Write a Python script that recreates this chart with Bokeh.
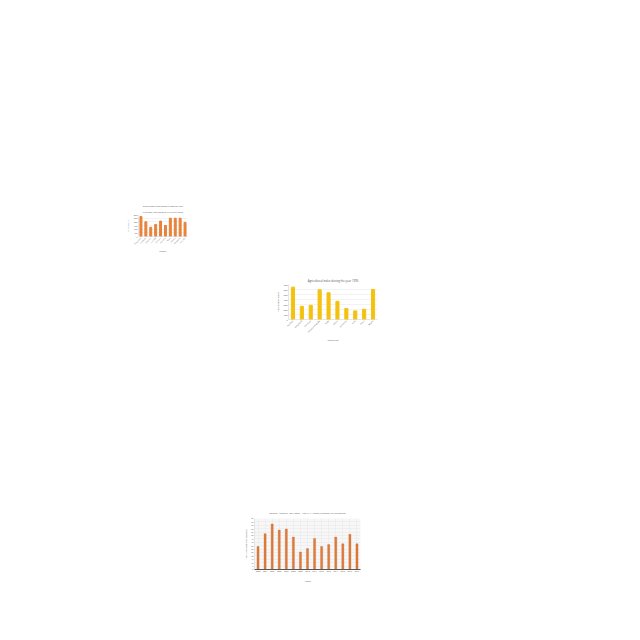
import math
from bokeh.plotting import figure
from bokeh.layouts import column, row, Spacer
from bokeh.models import Title, FixedTicker, Range1d
from bokeh.embed import file_html
from bokeh.resources import INLINE

# ---------------- data ----------------
c1_countries = ["Bangladesh", "Cambodia", "Indonesia", "Lao PDR", "Malaysia",
                "Myanmar", "Nepal", "Pakistan", "Philippines", "Sri Lanka"]
c1_values = [2730, 2010, 1260, 1650, 2100, 1500, 2490, 2490, 2490, 1920]
c1_ticks = [0, 500, 1000, 1500, 2000, 2500, 3000]

c2_countries = ["Argentina", "Bangladesh", "Cameroon", "Dominican Republic", "Egypt",
                "Ghana", "Guatemala", "India", "Kenya", "Nigeria"]
c2_values = [6470, 2640, 2840, 5940, 5350, 3630, 2180, 1720, 2050, 6010]
c2_ticks = [0, 1000, 2000, 3000, 4000, 5000, 6000, 7000]

c3_years = [str(y) for y in range(2003, 2018)]
c3_values = [33.8, 52.6, 67.0, 58.0, 59.6, 47.7, 25.8, 30.8, 45.7, 33.8, 36.8, 47.7, 37.7, 51.7, 37.7]
c3_ticks = list(range(0, 80, 5))

FONT = "Open Sans"
TXT = "#555555"


def style(p, ticks, rot=True, lab=2.2, ttl=2.6):
    p.outline_line_color = None
    p.yaxis.ticker = FixedTicker(ticks=ticks)
    for ax in (p.xaxis, p.yaxis):
        ax.major_label_text_font_size = f"{lab}px"
        ax.major_label_text_font = FONT
        ax.major_label_text_color = TXT
        ax.axis_label_text_font_size = f"{ttl}px"
        ax.axis_label_text_font = FONT
        ax.axis_label_text_font_style = "normal"
        ax.axis_label_text_color = TXT
        ax.major_tick_line_color = None
        ax.minor_tick_line_color = None
        ax.major_tick_out = 0
        ax.major_tick_in = 0
        ax.minor_tick_out = 0
        ax.minor_tick_in = 0
        ax.major_label_standoff = 1
        ax.axis_label_standoff = 1
        ax.axis_line_color = "#cccccc"
        ax.axis_line_width = 0.5
    if rot:
        p.xaxis.major_label_orientation = math.pi / 4
    p.xgrid.grid_line_color = None
    p.ygrid.grid_line_color = "#e6e6e6"
    p.ygrid.grid_line_width = 0.5


def add_title(p, text, size, standoff=1):
    t = Title(text=text, align="center", text_font_size=f"{size}px",
              text_font=FONT, text_color=TXT, text_font_style="normal", standoff=standoff)
    p.add_layout(t, "above")


def fig(xr, ymax, fw, fh, bl, br, bt, bb):
    return figure(x_range=xr, y_range=Range1d(0, ymax),
                  frame_width=fw, frame_height=fh,
                  min_border_left=bl, min_border_right=br,
                  min_border_top=bt, min_border_bottom=bb,
                  output_backend="svg", toolbar_location=None)


# ---------------- chart 1 ----------------
p1 = fig(c1_countries, 3000, 49, 22, 12, 4, 11, 16)
p1.vbar(x=c1_countries, top=c1_values, width=0.4, color="#e8823a")
style(p1, c1_ticks, lab=1.7, ttl=2.0)
add_title(p1, "in selected Asian countries (in kWh per capita)", 1.9)
add_title(p1, "Electric power consumption in different years", 1.9)
p1.yaxis.axis_label = "Consumption"
p1.xaxis.axis_label = "Country"

# ---------------- chart 2 ----------------
p2 = fig(c2_countries, 7000, 89, 35, 14, 2, 10, 21)
p2.vbar(x=c2_countries, top=c2_values, width=0.35, color="#f4c20d")
style(p2, c2_ticks, lab=1.8, ttl=2.4)
add_title(p2, "Agricultural index during the year 1995", 2.8, standoff=4)
p2.yaxis.axis_label = "Agricultural index"
p2.xaxis.axis_label = "Countries"

# ---------------- chart 3 ----------------
p3 = fig(c3_years, 75, 106, 51, 12, 2, 10, 14)
p3.vbar(x=c3_years, top=c3_values, width=0.3, color="#e07b39",
        line_color="#c0612a", line_width=0.3)
style(p3, c3_ticks, rot=False, lab=2.0, ttl=2.5)
p3.background_fill_color = "#f7f7f7"
p3.xgrid.grid_line_color = "#e6e6e6"
p3.xgrid.grid_line_width = 0.5
p3.xaxis.axis_line_color = "#555555"
p3.xaxis.axis_line_width = 1
p3.xaxis.axis_label_standoff = 3
add_title(p3, "Deaths - Malaria - Sex: Both - Age: 5-14 years (Number) in Philippines", 2.4, standoff=8)
p3.yaxis.axis_label = "No. of Deaths by Malaria"
p3.xaxis.axis_label = "Years"

layout = column(
    Spacer(height=202, width=10),
    row(Spacer(width=123, height=10), p1),
    Spacer(height=19, width=10),
    row(Spacer(width=273, height=10), p2),
    Spacer(height=161, width=10),
    row(Spacer(width=240, height=10), p3),
)

open("out.html", "w").write(file_html(layout, INLINE))
